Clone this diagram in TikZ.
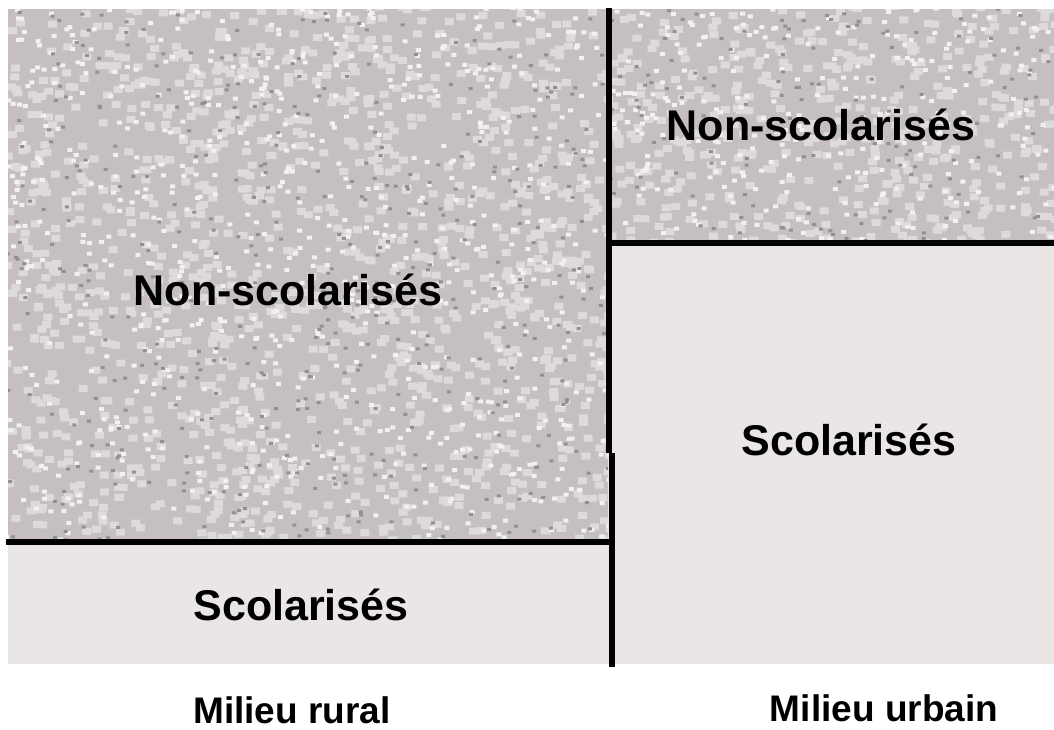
\documentclass[tikz,border=0pt]{standalone}
\usepackage{fontspec}
\setmainfont{Liberation Sans}
\usetikzlibrary{positioning,calc}
\definecolor{paleback}{RGB}{234,230,230}
\definecolor{granitebase}{RGB}{197,191,194}
\definecolor{speckdark}{RGB}{150,143,146}
\definecolor{speckmid}{RGB}{222,218,220}
\definecolor{specklight}{RGB}{242,240,241}
\tikzset{
    zonetext/.style={font=\bfseries\fontsize{21.5}{24}\selectfont, anchor=base, inner sep=0pt},
    milieutext/.style={font=\bfseries\fontsize{18.5}{21}\selectfont, anchor=base, inner sep=0pt},
    divider/.style={line width=2.6pt, black}
}

\begin{document}
\begin{tikzpicture}[x=0.5pt, y=-0.5pt]
    \useasboundingbox (0,0) rectangle (1054,729);

    % Corners of the zones
    \coordinate (ruralTop) at (8,9);
    \coordinate (ruralSplit) at (608,542);
    \coordinate (ruralBottom) at (608,664);
    \coordinate (urbanTop) at (608,9);
    \coordinate (urbanSplit) at (1054,243);
    \coordinate (urbanBottom) at (1054,664);

    % Scolarises (plain grey)
    \fill[paleback] (8,542) rectangle (ruralBottom);
    \fill[paleback] (608,243) rectangle (urbanBottom);

    % Non-scolarises (granite texture)
    \fill[granitebase] (ruralTop) rectangle (ruralSplit);
    \fill[granitebase] (urbanTop) rectangle (urbanSplit);
    \begin{scope}
        \clip (ruralTop) rectangle (ruralSplit) (urbanTop) rectangle (urbanSplit);
        \pgfmathsetseed{4217}
        \fill[speckmid] foreach \i in {1,...,2200} {
            ({2+1052*rnd},{3+539*rnd}) rectangle ++(9,7)
        };
        \fill[specklight] foreach \i in {1,...,1400} {
            ({4+1050*rnd},{5+537*rnd}) rectangle ++(5,4)
        };
        \fill[speckdark] foreach \i in {1,...,800} {
            ({4+1050*rnd},{5+537*rnd}) rectangle ++(4,3)
        };
    \end{scope}

    % Dividing lines
    \coordinate (vTop) at (609,8);
    \coordinate (vMid) at (609,453);
    \coordinate (vMidLow) at (612,453);
    \coordinate (vEnd) at (612,667);
    \coordinate (hRuralL) at (6,542);
    \coordinate (hRuralR) at (609,542);
    \coordinate (hUrbanL) at (609,243);
    \coordinate (hUrbanR) at (1054,243);
    \draw[divider] (vTop) -- (vMid);
    \draw[divider] (vMidLow) -- (vEnd);
    \draw[divider, line width=3pt] (hRuralL) -- (hRuralR);
    \draw[divider] (hUrbanL) -- (hUrbanR);

    % Texts
    \node[zonetext] (ruralNon) at (288,305) {Non-scolarisés};
    \node[zonetext] (ruralSco) at (301,620) {Scolarisés};
    \node[zonetext] (urbanNon) at (821,140) {Non-scolarisés};
    \node[zonetext] (urbanSco) at (849,455) {Scolarisés};
    \node[milieutext] (rural) at (292,723) {Milieu rural};
    \node[milieutext] (urbain) at (884,721) {Milieu urbain};
\end{tikzpicture}
\end{document}
